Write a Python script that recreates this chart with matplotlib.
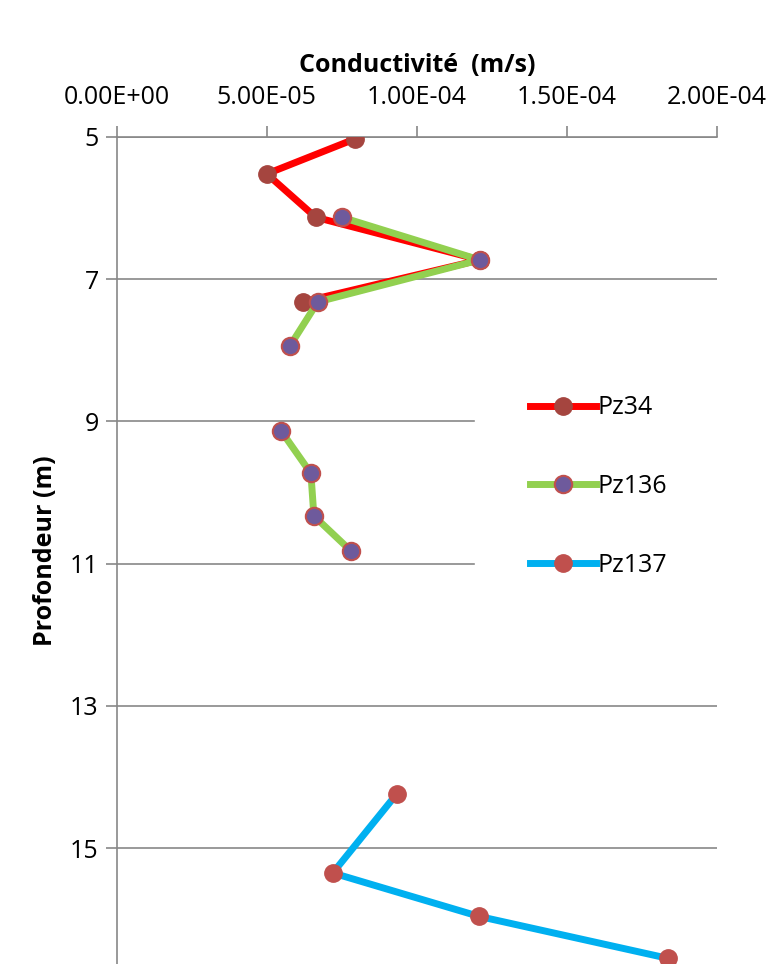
import numpy as np
import matplotlib
matplotlib.use('Agg')
from matplotlib import pyplot as plt
from matplotlib.ticker import FuncFormatter

plt.rcParams['font.family'] = ['Open Sans', 'DejaVu Sans']

# données
pz34_k = [7.93e-5, 5.0e-5, 6.63e-5, 1.21e-4, 6.2e-5]
pz34_z = [5.03, 5.52, 6.13, 6.73, 7.32]

pz136_k = [7.5e-5, 1.21e-4, 6.7e-5, 5.77e-5, np.nan, 5.47e-5, 6.47e-5, 6.57e-5, 7.8e-5]
pz136_z = [6.13, 6.73, 7.32, 7.94, np.nan, 9.13, 9.73, 10.33, 10.82]

pz137_k = [9.33e-5, 7.2e-5, 1.207e-4, 1.837e-4]
pz137_z = [14.24, 15.35, 15.96, 16.55]

x_ticks = [0, 5e-5, 1e-4, 1.5e-4, 2e-4]
y_ticks = [5, 7, 9, 11, 13, 15]

gris = '#878787'

fig = plt.figure(figsize=(7.79, 9.64), dpi=100)
ax = fig.add_axes([0.150, 0.0, 0.770, 0.858])

ax.plot(pz34_k, pz34_z, color='#FF0000', lw=5, marker='o', ms=12.5,
        mfc='#A5453F', mec='#A5453F', label='Pz34', zorder=3)
ax.plot(pz136_k, pz136_z, color='#92D050', lw=5, marker='o', ms=12.5,
        mfc='#6E5A9C', mec='#C0504D', mew=1.5, label='Pz136', zorder=4)
ax.plot(pz137_k, pz137_z, color='#00B0F0', lw=5, marker='o', ms=12.5,
        mfc='#C0504D', mec='#C0504D', label='Pz137', zorder=5)

ax.set_xlim(0, 2e-4)
ax.set_ylim(16.63, 5)
ax.set_xticks(x_ticks)
ax.set_yticks(y_ticks)
ax.xaxis.set_major_formatter(FuncFormatter(lambda v, p: f'{v:.2E}'))
ax.xaxis.tick_top()
ax.xaxis.set_label_position('top')

ax.tick_params(axis='both', direction='out', length=8, width=1.2, color=gris,
               labelsize=18, pad=5)
ax.tick_params(axis='x', pad=11)
for s in ['right', 'bottom']:
    ax.spines[s].set_visible(False)
for s in ['top', 'left']:
    ax.spines[s].set_color(gris)
    ax.spines[s].set_linewidth(1.2)

ax.grid(axis='y', color=gris, lw=1.2, zorder=0)
ax.set_axisbelow(True)

ax.set_xlabel('Conductivité  (m/s)', fontsize=18, fontweight='bold', labelpad=10)
ax.set_ylabel('Profondeur (m)', fontsize=18, fontweight='bold', labelpad=9)

leg = ax.legend(loc='upper left', bbox_to_anchor=(0.597, 0.45, 0.403, 0.304), mode='expand',
                fontsize=18, frameon=True, fancybox=False, edgecolor='white',
                facecolor='white', framealpha=1, handlelength=2.65, labelspacing=2.15,
                handletextpad=0.05, borderpad=2.2, borderaxespad=0)
leg.set_zorder(10)

fig.savefig('out.png', dpi=100)
